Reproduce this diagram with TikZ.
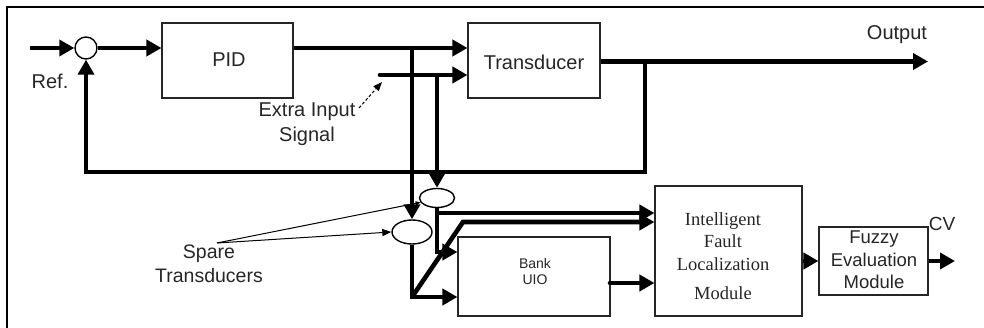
\documentclass[tikz,border=0pt]{standalone}
\usepackage{fontspec}
\setmainfont{Liberation Sans}
\newfontfamily\iflserif{Liberation Serif}
\usetikzlibrary{arrows.meta,shapes.geometric}
\begin{document}
\begin{tikzpicture}[x=1pt,y=-1pt,
  thickline/.style={line width=4.6pt},
  bigtip/.style={-{Triangle[length=15pt,width=16pt]}},
  thintip/.style={-{Triangle[length=9pt,width=7pt]}},
  box/.style={draw=black!85,line width=1.1pt,rectangle,inner sep=0pt},
  oval/.style={draw,line width=1.4pt,ellipse,inner sep=0pt},
  lbl/.style={text=black!85,inner sep=0pt,font=\fontsize{20}{25}\selectfont,align=center},
  thinline/.style={line width=1pt}
]
\useasboundingbox (0,0) rectangle (984,328);
% frame
\draw[line width=2.5pt] (7,330) -- (7,7) -- (990,7);

% nodes
\node[circle,draw,line width=1.4pt,minimum size=22pt,inner sep=0pt] (sum) at (86,48) {};
\node[box,minimum width=131pt,minimum height=75pt] (pid) at (227.5,60.5) {};
\node[lbl] (pidtext) at (229,60) {PID};
\node[box,minimum width=132pt,minimum height=75pt] (trans) at (534,60.5) {};
\node[lbl] (transtext) at (534,62) {Transducer};
\node[oval,minimum width=35pt,minimum height=19pt] (ell1) at (437,198) {};
\node[oval,minimum width=40pt,minimum height=24pt] (ell2) at (412,232) {};
\node[box,minimum width=152pt,minimum height=79pt] (bank) at (534,276.5) {};
\node[lbl,font=\fontsize{14}{16}\selectfont] (banktext) at (535,271) {Bank\\UIO};
\node[box,minimum width=147pt,minimum height=130pt] (ifl) at (728.5,251) {};
\node[lbl,font=\iflserif\fontsize{18.5}{22.5}\selectfont] (ifltext) at (723,256) {Intelligent\\Fault\\Localization\\[7pt]Module};
\node[box,minimum width=109pt,minimum height=68pt] (fuzzy) at (873.5,261) {};
\node[lbl,font=\fontsize{18.5}{22.5}\selectfont] (fuzzytext) at (874,260) {Fuzzy\\Evaluation\\Module};

% labels
\node[lbl] (ref) at (50,81) {Ref.};
\node[lbl] (output) at (897,35) {Output};
\node[lbl] (extra) at (307,124) {Extra Input\\Signal};
\node[lbl,font=\fontsize{19.5}{24}\selectfont] (spare) at (209,264) {Spare\\Transducers};
\node[lbl,font=\fontsize{19}{22}\selectfont] (cv) at (942,224) {CV};

% coordinates
\coordinate (refin) at (30,48);
\coordinate (j1) at (412,48);
\coordinate (ex) at (380,75);
\coordinate (j2) at (437,75);
\coordinate (out) at (928,61.5);
\coordinate (j3) at (645,61.5);
\coordinate (fb) at (645,172);
\coordinate (c1) at (437,252);
\coordinate (h1) at (437,213);
\coordinate (d0) at (412,297);
\coordinate (d1) at (463,222);
\coordinate (bo) at (610,283);
\coordinate (cvend) at (955,261);
\coordinate (ea0) at (359,108);
\coordinate (ea1) at (382,82);
\coordinate (sp) at (217,243);

% top loop
\draw[thickline,bigtip] (refin) -- (sum.west);
\draw[thickline,bigtip] (sum.east) -- (sum.east -| pid.west);
\draw[thickline,bigtip] (pid.east |- sum) -- (sum -| trans.west);
\draw[thickline,bigtip,line cap=round] (ex) -- (ex -| trans.west);
\draw[thickline,bigtip] (trans.east |- out) -- (out);
\draw[thickline,bigtip] (j3) -- (fb) -| (sum.south);
\draw[thickline,bigtip] (j1) -- (ell2.north);
\draw[thickline,bigtip] (j2) -- (ell1.north);

% lower part
\draw[thickline,bigtip] (ell1.south) |- (c1 -| bank.west);
\draw[thickline,bigtip] (h1) -- (h1 -| ifl.west);
\draw[thickline,bigtip] (ell2.south) |- (d0 -| bank.west);
\draw[thickline,bigtip] (d0) -- (d1) -- (d1 -| ifl.west);
\draw[thickline,bigtip,line cap=round] (bo) -- (bo -| ifl.west);
\draw[thickline,bigtip] (ifl.east |- fuzzy) -- (fuzzy.west);
\draw[thickline,bigtip] (fuzzy.east) -- (cvend);

% thin pointers
\draw[thinline,dashed,dash pattern=on 3pt off 2pt,thintip] (ea0) -- (ea1);
\draw[thinline,thintip] (sp) -- (ell2.west);
\draw[thinline,-{Triangle[length=5pt,width=4pt]}] (sp) -- (ell1.195);
\end{tikzpicture}
\end{document}
